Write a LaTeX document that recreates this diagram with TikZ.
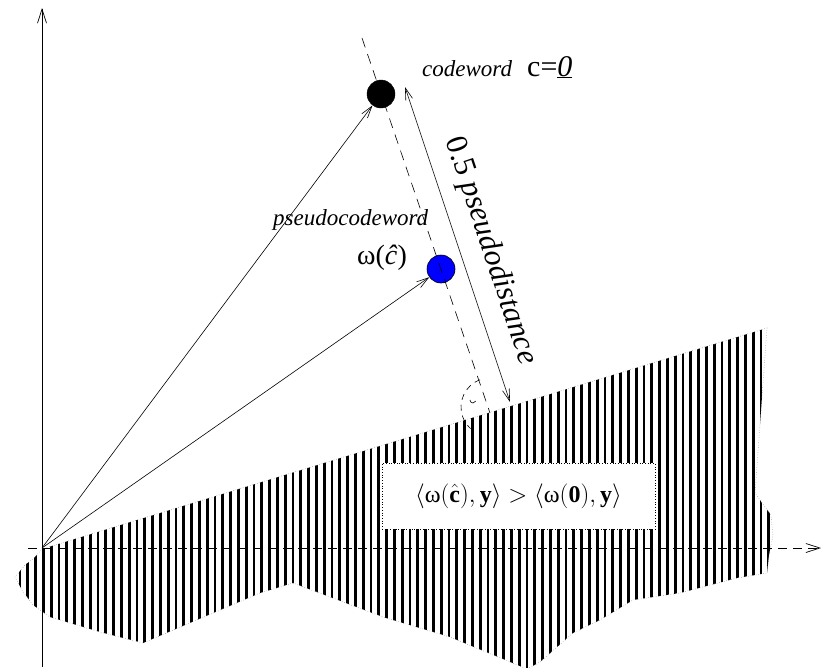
\documentclass[tikz,border=0pt]{standalone}
\usepackage{fontspec}
\setmainfont{Liberation Serif}
\usetikzlibrary{arrows.meta}
\begin{document}
\begin{tikzpicture}[x=1pt,y=-1pt,
  barb/.style={-{Straight Barb[length=12pt,width=7pt]}},
  dbarb/.style={{Straight Barb[length=12pt,width=7pt]}-{Straight Barb[length=12pt,width=7pt]}},
  axisbarb/.style={-{Straight Barb[length=14pt,width=9pt]}},
  dot/.style={circle, fill=black, draw=black, minimum size=28pt, inner sep=0pt},
  bluedot/.style={circle, fill=blue, draw=black, line width=0.6pt, minimum size=28pt, inner sep=0pt},
  hatchline/.style={line width=2.9pt},
  dline/.style={dash pattern=on 10pt off 7pt, line width=0.6pt},
  lbl/.style={inner sep=0pt, anchor=base west}]
\useasboundingbox (0,0) rectangle (821,667);

% hatched region
\begin{scope}
  \clip (42,549) -- (767,328) -- (755,493) -- (762,503) -- (771,515) -- (773,535) -- (769,555) -- (767,573) -- (737,578) -- (680,593) -- (633,600) -- (600,620) -- (573,633) -- (540,662) -- (527,669) -- (450,637) -- (383,617) -- (293,583) -- (260,593) -- (143,643) -- (100,632) -- (50,617) -- (33,605) -- (22,590) -- (15,577) -- (25,565) -- (35,557) -- cycle;
  \foreach \xx in {12.2,20.0,...,780} \draw[hatchline] (\xx,300) -- (\xx,680);
\end{scope}
\draw[dotted, line width=0.5pt, gray] (42,549) -- (767,328) -- (755,493) -- (762,503) -- (771,515) -- (773,535) -- (769,555) -- (767,573) -- (737,578) -- (680,593) -- (633,600) -- (600,620) -- (573,633) -- (540,662) -- (527,669) -- (450,637) -- (383,617) -- (293,583) -- (260,593) -- (143,643) -- (100,632) -- (50,617) -- (33,605) -- (22,590) -- (15,577) -- (25,565) -- (35,557) -- cycle;

% inequality box
\node[draw, dotted, line width=0.7pt, fill=white, minimum width=273pt, minimum height=66pt, inner sep=0pt,
  font=\fontsize{24}{24}\selectfont] (bx) at (518.5,496)
  {$\langle \mbox{ω}(\hat{\mathbf{c}}),\mathbf{y}\rangle > \langle \mbox{ω}(\mathbf{0}),\mathbf{y}\rangle$};

% axes
\coordinate (O) at (42,548);
\coordinate (vb) at (42,667);
\coordinate (vt) at (42,8);
\coordinate (hl) at (28,548);
\coordinate (hr) at (821,548);
\draw[axisbarb, line width=0.7pt] (vb) -- (vt);
\draw[axisbarb, line width=0.7pt, dash pattern=on 9pt off 6pt] (hl) -- (hr);

% points
\node[dot] (c0) at (381,94) {};
\node[bluedot] (pc) at (441,269) {};

% dashed perpendicular line
\coordinate (d1) at (362,38);
\coordinate (d2) at (490,413);
\draw[dline] (d1) -- (d2);

% right-angle mark
\coordinate (ra) at (490,407);
\draw[dash pattern=on 6pt off 5pt, line width=0.6pt] (ra) ++(-110:29) arc[start angle=-110, end angle=-228, radius=29];
\draw[line width=0.6pt] (470,400) arc[start angle=180, end angle=20, radius=3];

% vectors
\draw[barb, line width=0.6pt] (O) -- (c0);
\draw[barb, line width=0.6pt] (O) -- (pc);

% pseudodistance arrow
\coordinate (a1) at (405,87);
\coordinate (a2) at (510,402);
\draw[dbarb, line width=0.6pt] (a1) -- node[sloped, anchor=south, inner sep=0pt, yshift=15pt, pos=0.55,
  font=\fontsize{31}{31}\selectfont] (pd) {0.5 \textit{pseudodistance}} (a2);

% labels
\node[lbl, font=\fontsize{23}{23}\selectfont\itshape] (lcw) at (422,76) {codeword};
\node[lbl, font=\fontsize{30}{30}\selectfont] (lc) at (527,76) {c=\underline{\textit{0}}};
\node[lbl, font=\fontsize{23}{23}\selectfont\itshape] (lpc) at (273,225) {pseudocodeword};
\node[lbl, font=\fontsize{28}{28}\selectfont] (lw) at (357,264) {ω(\textit{ĉ})};
\end{tikzpicture}
\end{document}
